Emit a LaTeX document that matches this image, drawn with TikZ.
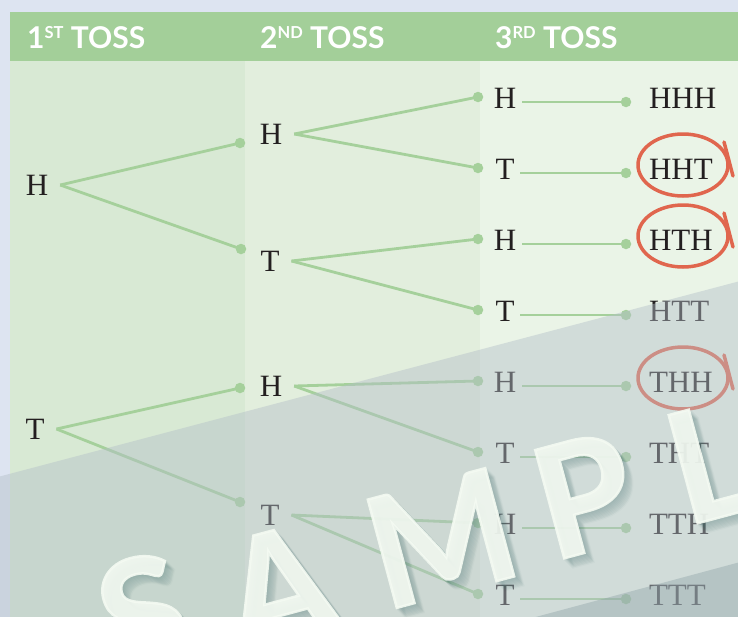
\documentclass[tikz,border=0pt]{standalone}
\usepackage{fontspec}
\setmainfont{Liberation Serif}
\newfontfamily\hdrfont{Lato}
\usetikzlibrary{calc}

\definecolor{outerbg}{HTML}{DDE4F1}
\definecolor{hdrgreen}{HTML}{A3CF99}
\definecolor{colA}{HTML}{D8E9D4}
\definecolor{colB}{HTML}{E2EEDD}
\definecolor{colC}{HTML}{EAF4E7}
\definecolor{linegreen}{HTML}{A5D09B}
\definecolor{circred}{HTML}{E0664E}
\definecolor{inkdark}{HTML}{231F20}
\definecolor{veil}{RGB}{180,191,200}
\definecolor{veildark}{RGB}{140,160,165}
\definecolor{wmark}{RGB}{244,250,242}
\definecolor{wshadow}{RGB}{50,100,100}

\newcommand\hdrsup[1]{\raisebox{9.5pt}{\fontsize{16.5}{16.5}\selectfont #1}}

\begin{document}
\begin{tikzpicture}[x=1pt,y=-1pt,
  letter/.style={font=\fontsize{31}{31}\selectfont, text=inkdark, text height=21pt, text depth=0pt, inner ysep=0pt, inner xsep=12pt, outer sep=0pt},
  letterC/.style={letter, inner xsep=6pt},
  outcome/.style={letter, inner xsep=0pt, anchor=west},
  dotn/.style={circle, fill=linegreen, minimum size=10.5pt, inner sep=0pt, outer sep=0pt},
  branch/.style={draw=linegreen, line width=2.8pt},
  hdr/.style={font=\hdrfont\bfseries\fontsize{30}{30}\selectfont, text=white, anchor=base west, inner sep=0pt},
  ring/.style={draw=circred, line width=3.5pt, line cap=round},
  wm/.style={font=\hdrfont\bfseries\addfontfeature{FakeBold=1.6}\fontsize{155}{155}\selectfont, text=wmark, text opacity=0.9, rotate=15, inner sep=0pt},
  wmsh/.style={wm, text=wshadow, text opacity=0.03}
]
\useasboundingbox (0,0) rectangle (738,616);
\clip (-6,-6) rectangle (744,622);

% backgrounds
\fill[outerbg] (-6,-6) rectangle (744,622);
\fill[colA] (10,12) rectangle (245,622);
\fill[colB] (245,12) rectangle (480,622);
\fill[colC] (480,12) rectangle (744,622);
\fill[hdrgreen] (10,12) rectangle (744,61);

% header
\node[hdr] (t1) at (27,48) {1\hdrsup{ST} TOSS};
\node[hdr] (t2) at (260,48) {2\hdrsup{ND} TOSS};
\node[hdr] (t3) at (495,48) {3\hdrsup{RD} TOSS};

% first toss
\node[letter] (a1) at (37,185) {H};
\node[letter] (a2) at (35,429) {T};

% dots before second toss
\node[dotn] (p1) at (240,143) {};
\node[dotn] (p2) at (241,249) {};
\node[dotn] (p3) at (240,388) {};
\node[dotn] (p4) at (240,502) {};

% second toss
\node[letter] (b1) at (271,134) {H};
\node[letter] (b2) at (270,261) {T};
\node[letter] (b3) at (271,386) {H};
\node[letter] (b4) at (270,515) {T};

% third toss, dots and outcomes
\foreach \k/\y/\l/\o in {1/98/H/HHH, 2/169/T/HHT, 3/240/H/HTH, 4/311/T/HTT,
                         5/382/H/THH, 6/453/T/THT, 7/524/H/TTH, 8/595/T/TTT} {
  \node[dotn] (q\k) at (478,\y-1) {};
  \node[letterC] (c\k) at (505,\y) {\l};
  \node[dotn] (r\k) at (626,\y+4) {};
  \node[outcome] (o\k) at (649,\y) {\o};
  \draw[branch] ([yshift=-4pt]c\k.east) -- (r\k.center);
}

% branches
\draw[branch] (a1.east) -- (p1.center);
\draw[branch] (a1.east) -- (p2.center);
\draw[branch] (a2.east) -- (p3.center);
\draw[branch] (a2.east) -- (p4.center);
\draw[branch] (b1.east) -- (q1.center);
\draw[branch] (b1.east) -- (q2.center);
\draw[branch] (b2.east) -- (q3.center);
\draw[branch] (b2.east) -- (q4.center);
\draw[branch] (b3.east) -- (q5.center);
\draw[branch] (b3.east) -- (q6.center);
\draw[branch] (b4.east) -- (q7.center);
\draw[branch] (b4.east) -- (q8.center);

% hand-drawn rings
\foreach \cy in {165,236,378} {
  \draw[ring] (683,\cy) ellipse [x radius=45pt, y radius=31pt];
  \draw[ring] (724,\cy-23) .. controls (727,\cy-12) and (730,\cy) .. (733,\cy+11);
}

% sample veil
\fill[veil, opacity=0.45] (-6,478) -- (744,280) -- (744,622) -- (-6,622) -- cycle;
\fill[veildark, opacity=0.4] (517,622) -- (744,561) -- (744,622) -- cycle;

% watermark
\foreach \n/\x/\y/\l in {wS/143/614/S, wA/278/587/A, wM/441/538/M, wP/584/495/P, wL/710/462/L} {
  \foreach \s in {1,2,...,9} {
    \node[wmsh] at (\x+\s,\y+\s) {\l};
  }
  \node[wm] (\n) at (\x,\y) {\l};
}
\end{tikzpicture}
\end{document}
